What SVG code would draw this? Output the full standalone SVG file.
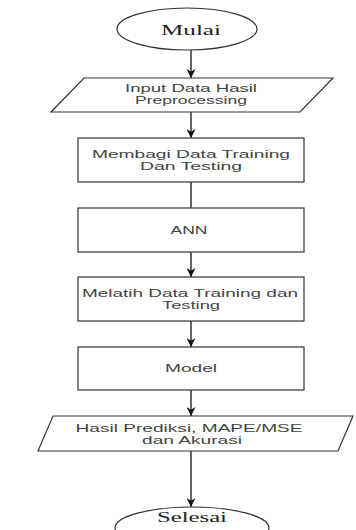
<svg xmlns="http://www.w3.org/2000/svg" width="356" height="530" viewBox="0 0 356 530">
<defs>
<marker id="arr" viewBox="0 0 10 10" refX="10" refY="5" markerWidth="9" markerHeight="9" markerUnits="userSpaceOnUse" orient="auto">
<path d="M0,0 L10,5 L0,10 L3,5 Z" fill="#111"/>
</marker>
</defs>
<style>
.shape{fill:#fff;stroke:#333;stroke-width:1.2}
.t{font-family:"Liberation Sans",Arial,sans-serif;font-size:11px;fill:#444;text-anchor:middle}
.s{font-family:"Liberation Serif","Times New Roman",serif;font-size:15px;fill:#222;text-anchor:middle}
.c{stroke:#111;stroke-width:1.3;fill:none}
</style>
<rect width="356" height="530" fill="#fff"/>
<g id="connectors">
<line class="c" x1="191" y1="50" x2="191" y2="78" marker-end="url(#arr)"/>
<line class="c" x1="191" y1="112" x2="191" y2="138" marker-end="url(#arr)"/>
<line class="c" x1="191" y1="182" x2="191" y2="208"/>
<line class="c" x1="191" y1="252" x2="191" y2="277" marker-end="url(#arr)"/>
<line class="c" x1="191" y1="321" x2="191" y2="347" marker-end="url(#arr)"/>
<line class="c" x1="191" y1="390" x2="191" y2="416" marker-end="url(#arr)"/>
<line class="c" x1="191" y1="451" x2="191" y2="507" marker-end="url(#arr)"/>
</g>
<g id="mulai">
<ellipse class="shape" cx="187" cy="29" rx="70" ry="21"/>
<text class="s" x="191" y="35" textLength="60" lengthAdjust="spacingAndGlyphs">Mulai</text>
</g>
<g id="input">
<polygon class="shape" points="51,112 84,78 333,78 300,112"/>
<text class="t" x="191" y="92" textLength="132" lengthAdjust="spacingAndGlyphs">Input Data Hasil</text>
<text class="t" x="191" y="104" textLength="112" lengthAdjust="spacingAndGlyphs">Preprocessing</text>
</g>
<g id="membagi">
<rect class="shape" x="78" y="138" width="226" height="44"/>
<text class="t" x="191" y="158" textLength="198" lengthAdjust="spacingAndGlyphs">Membagi Data Training</text>
<text class="t" x="191" y="170" textLength="102" lengthAdjust="spacingAndGlyphs">Dan Testing</text>
</g>
<g id="ann">
<rect class="shape" x="78" y="208" width="226" height="44"/>
<text class="t" x="189" y="234" textLength="37" lengthAdjust="spacingAndGlyphs">ANN</text>
</g>
<g id="melatih">
<rect class="shape" x="78" y="277" width="226" height="44"/>
<text class="t" x="190" y="297" textLength="216" lengthAdjust="spacingAndGlyphs">Melatih Data Training dan</text>
<text class="t" x="191" y="309" textLength="58" lengthAdjust="spacingAndGlyphs">Testing</text>
</g>
<g id="model">
<rect class="shape" x="78" y="347" width="226" height="43"/>
<text class="t" x="191" y="372" textLength="52" lengthAdjust="spacingAndGlyphs">Model</text>
</g>
<g id="hasil">
<polygon class="shape" points="38,451 53,416 353,416 338,451"/>
<text class="t" x="189" y="432" textLength="227" lengthAdjust="spacingAndGlyphs">Hasil Prediksi, MAPE/MSE</text>
<text class="t" x="192" y="444" textLength="100" lengthAdjust="spacingAndGlyphs">dan Akurasi</text>
</g>
<g id="selesai">
<ellipse class="shape" cx="192" cy="528" rx="77" ry="21"/>
<text class="s" x="192" y="522" textLength="70" lengthAdjust="spacingAndGlyphs">Selesai</text>
</g>
</svg>
